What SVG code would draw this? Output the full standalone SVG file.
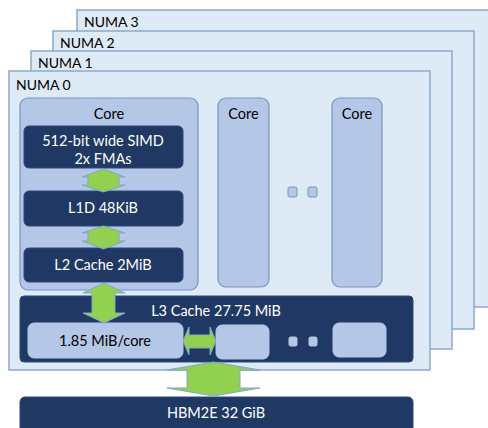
<svg xmlns="http://www.w3.org/2000/svg" width="488" height="428" viewBox="0 0 488 428">
<style>
.numa{fill:#DEEAF6;stroke:#8DA9C8;stroke-width:1.5}
.core{fill:#B4C7E7;stroke:#7496BF;stroke-width:1.2}
.dark{fill:#1F3864;stroke:#2E4A78;stroke-width:1}
.lt{fill:#B4C7E7;stroke:#B4C7E7;stroke-width:1}
.dot{fill:#B4C7E7;stroke:#7496BF;stroke-width:1}
.arr{fill:#92D050;stroke:#7EA6D0;stroke-width:1}
text{font-family:Lato,"Liberation Sans",sans-serif;font-size:14px}
.lbl{fill:#000}
.w{fill:#fff;text-anchor:middle;font-size:14.5px}
.c{fill:#000;text-anchor:middle;font-size:14.5px}
</style>
<rect width="488" height="428" fill="#fff"/>
<g id="numa3"><rect class="numa" x="77" y="10" width="420" height="297"/><text class="lbl" x="84" y="27">NUMA 3</text></g>
<g id="numa2"><rect class="numa" x="53" y="31" width="421" height="298"/><text class="lbl" x="60" y="48">NUMA 2</text></g>
<g id="numa1"><rect class="numa" x="31" y="51" width="421" height="298"/><text class="lbl" x="38" y="68">NUMA 1</text></g>
<g id="numa0"><rect class="numa" x="9" y="71" width="421" height="299"/><text class="lbl" x="16" y="90">NUMA 0</text></g>
<g id="core0"><rect class="core" x="20" y="98" width="178" height="192" rx="8"/><text class="c" x="109" y="119">Core</text></g>
<g id="simd"><rect class="dark" x="24" y="126" width="159" height="42" rx="5"/><text class="w" x="103" y="146">512-bit wide SIMD</text><text class="w" x="103" y="164">2x FMAs</text></g>
<g id="l1d"><rect class="dark" x="24" y="191" width="159" height="35" rx="5"/><text class="w" x="103" y="213">L1D 48KiB</text></g>
<g id="l2"><rect class="dark" x="24" y="248" width="159" height="34" rx="5"/><text class="w" x="103" y="270">L2 Cache 2MiB</text></g>
<g id="core1"><rect class="core" x="218" y="98" width="51" height="189" rx="8"/><text class="c" x="243.5" y="119">Core</text></g>
<g id="core2"><rect class="core" x="332" y="98" width="50" height="189" rx="8"/><text class="c" x="357" y="119">Core</text></g>
<g id="coredots"><rect class="dot" x="288" y="187" width="9" height="10" rx="2"/><rect class="dot" x="308" y="187" width="9" height="10" rx="2"/></g>
<g id="l3"><rect class="dark" x="20" y="296" width="393" height="66" rx="4"/><text class="w" x="216" y="316">L3 Cache 27.75 MiB</text></g>
<g id="slice0"><rect class="lt" x="28" y="323" width="155" height="35" rx="6"/><text class="c" x="105" y="346">1.85 MiB/core</text></g>
<g id="slice1"><rect class="lt" x="216" y="325" width="53" height="34" rx="6"/></g>
<g id="slice2"><rect class="lt" x="333" y="323" width="53" height="34" rx="6"/></g>
<g id="slicedots"><rect class="lt" x="289" y="337" width="8" height="9" rx="1.5"/><rect class="lt" x="309" y="337" width="8" height="9" rx="1.5"/></g>
<g id="hbm"><rect class="dark" x="20" y="397" width="393" height="40" rx="5"/><text class="w" x="216" y="418">HBM2E 32 GiB</text></g>
<g id="connectors">
<path class="arr" d="M103.5,169 L125,177 L119,177 L119,185 L125,185 L103.5,192 L82,185 L88,185 L88,177 L82,177 Z"/>
<path class="arr" d="M103.5,226 L125,233 L119,233 L119,241 L125,241 L103.5,249 L82,241 L88,241 L88,233 L82,233 Z"/>
<path class="arr" d="M104,283 L125,293 L115,293 L115,313 L125,313 L104,323 L83,313 L92,313 L92,293 L83,293 Z"/>
<path class="arr" d="M183,341 L189,327 L189,335 L210,335 L210,327 L216,341 L210,355 L210,348 L189,348 L189,355 Z"/>
<path class="arr" d="M213.5,362 L260,370 L240,370 L240,388 L260,388 L213.5,396 L167,388 L187,388 L187,370 L167,370 Z"/>
</g>
</svg>
